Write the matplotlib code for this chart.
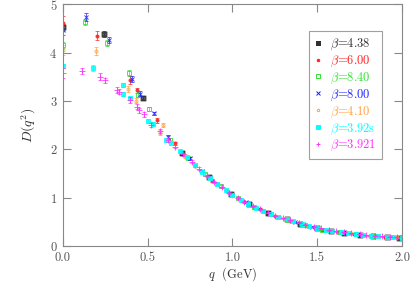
import matplotlib
matplotlib.use('Agg')
import matplotlib.pyplot as plt
from matplotlib.lines import Line2D

plt.rcParams['font.family'] = 'cmr10'
plt.rcParams['mathtext.fontset'] = 'cm'
plt.rcParams['axes.formatter.use_mathtext'] = True

# beta = 4.38
q_438 = [0.0, 0.24, 0.47, 0.70, 0.86, 0.99, 1.10, 1.21, 1.32, 1.40, 1.50, 1.58, 1.66, 1.75, 1.83, 1.91, 1.98]
D_438 = [4.53, 4.39, 3.06, 1.92, 1.42, 1.08, 0.86, 0.69, 0.55, 0.46, 0.37, 0.31, 0.27, 0.23, 0.21, 0.19, 0.17]
e_438 = [0.06, 0.06, 0.05, 0.04, 0.03, 0.02, 0.02, 0.02, 0.01, 0.01, 0.01, 0.01, 0.01, 0.01, 0.01, 0.01, 0.01]

# beta = 6.00
q_600 = [0.0, 0.20, 0.395, 0.44, 0.556, 0.66, 0.78, 0.88, 0.97, 1.06, 1.16, 1.25, 1.34, 1.44, 1.53, 1.62, 1.72, 1.81, 1.90, 1.99]
D_600 = [4.6, 4.35, 3.43, 3.22, 2.6, 2.12, 1.66, 1.35, 1.13, 0.93, 0.76, 0.63, 0.52, 0.42, 0.34, 0.29, 0.24, 0.21, 0.19, 0.17]
e_600 = [0.15, 0.1, 0.08, 0.05, 0.05, 0.04, 0.03, 0.03, 0.02, 0.02, 0.02, 0.01, 0.01, 0.01, 0.01, 0.01, 0.01, 0.01, 0.01, 0.01]

# beta = 8.40
q_840 = [0.0, 0.13, 0.258, 0.39, 0.445, 0.51, 0.63, 0.74, 0.84, 0.93, 1.03, 1.13, 1.23, 1.33, 1.43, 1.53, 1.63, 1.73, 1.83, 1.93, 2.0]
D_840 = [4.15, 4.63, 4.19, 3.57, 3.13, 2.84, 2.2, 1.82, 1.48, 1.24, 1.0, 0.8, 0.66, 0.54, 0.43, 0.34, 0.28, 0.24, 0.21, 0.19, 0.18]
e_840 = [0.06, 0.07, 0.06, 0.06, 0.05, 0.04, 0.03, 0.03, 0.02, 0.02, 0.02, 0.01, 0.01, 0.01, 0.01, 0.01, 0.01, 0.01, 0.01, 0.01, 0.01]

# beta = 8.00
q_800 = [0.0, 0.136, 0.27, 0.405, 0.454, 0.54, 0.62, 0.75, 0.82, 0.91, 1.00, 1.08, 1.18, 1.27, 1.37, 1.47, 1.56, 1.66, 1.76, 1.86, 1.96]
D_800 = [4.46, 4.74, 4.26, 3.46, 3.15, 2.74, 2.26, 1.81, 1.55, 1.28, 1.05, 0.9, 0.73, 0.61, 0.49, 0.4, 0.33, 0.27, 0.23, 0.2, 0.18]
e_800 = [0.1, 0.08, 0.06, 0.06, 0.05, 0.04, 0.04, 0.03, 0.02, 0.02, 0.02, 0.02, 0.01, 0.01, 0.01, 0.01, 0.01, 0.01, 0.01, 0.01, 0.01]

# beta = 4.10
q_410 = [0.0, 0.193, 0.385, 0.43, 0.57, 0.59, 0.72, 0.86, 1.0, 1.14, 1.28, 1.42, 1.56, 1.70, 1.84, 1.97]
D_410 = [4.05, 4.03, 3.24, 3.0, 2.34, 2.5, 1.86, 1.40, 1.03, 0.78, 0.59, 0.44, 0.33, 0.26, 0.21, 0.18]
e_410 = [0.1, 0.08, 0.06, 0.05, 0.05, 0.05, 0.04, 0.03, 0.02, 0.02, 0.01, 0.01, 0.01, 0.01, 0.01, 0.01]

# beta = 3.92s
q_392s = [0.0, 0.18, 0.356, 0.356, 0.395, 0.50, 0.53, 0.61, 0.64, 0.69, 0.73, 0.78, 0.82, 0.87, 0.91, 0.96, 1.0, 1.05,
          1.09, 1.14, 1.18, 1.23, 1.27, 1.32, 1.36, 1.41, 1.45, 1.50, 1.55, 1.59, 1.64, 1.68, 1.73, 1.77, 1.82, 1.86,
          1.91, 1.95, 2.0]
D_392s = [3.73, 3.68, 3.33, 3.15, 3.05, 2.59, 2.53, 2.19, 2.12, 1.96, 1.84, 1.67, 1.54, 1.40, 1.28, 1.16, 1.05, 0.95,
          0.87, 0.79, 0.73, 0.66, 0.61, 0.55, 0.51, 0.46, 0.42, 0.38, 0.34, 0.31, 0.28, 0.26, 0.24, 0.23, 0.21, 0.20,
          0.19, 0.18, 0.17]
e_392s = [0.04, 0.06, 0.05, 0.04, 0.04, 0.04, 0.03, 0.03, 0.03, 0.03, 0.02, 0.02, 0.02, 0.02, 0.02, 0.02, 0.02, 0.01,
          0.01, 0.01, 0.01, 0.01, 0.01, 0.01, 0.01, 0.01, 0.01, 0.01, 0.01, 0.01, 0.01, 0.01, 0.01, 0.01, 0.01, 0.01,
          0.01, 0.01, 0.01]

# beta = 3.921
q_3921 = [0.0, 0.11, 0.22, 0.25, 0.317, 0.33, 0.395, 0.44, 0.45, 0.48, 0.52, 0.57, 0.62, 0.66, 0.71, 0.76, 0.80, 0.85,
          0.89, 0.94, 0.98, 1.03, 1.07, 1.12, 1.16, 1.21, 1.25, 1.30, 1.34, 1.39, 1.43, 1.48, 1.52, 1.57, 1.61, 1.66,
          1.70, 1.75, 1.79, 1.84, 1.88, 1.93, 1.97]
D_3921 = [3.57, 3.62, 3.50, 3.43, 3.22, 3.19, 3.02, 2.88, 2.81, 2.72, 2.50, 2.38, 2.20, 2.05, 1.90, 1.74, 1.60, 1.45,
          1.33, 1.21, 1.10, 0.99, 0.91, 0.82, 0.76, 0.69, 0.63, 0.57, 0.53, 0.48, 0.44, 0.40, 0.37, 0.33, 0.31, 0.28,
          0.26, 0.24, 0.22, 0.21, 0.20, 0.19, 0.18]
e_3921 = [0.1, 0.07, 0.07, 0.05, 0.06, 0.05, 0.06, 0.05, 0.05, 0.05, 0.04, 0.04, 0.04, 0.03, 0.03, 0.03, 0.03, 0.02,
          0.02, 0.02, 0.02, 0.02, 0.02, 0.01, 0.01, 0.01, 0.01, 0.01, 0.01, 0.01, 0.01, 0.01, 0.01, 0.01, 0.01, 0.01,
          0.01, 0.01, 0.01, 0.01, 0.01, 0.01, 0.01]

labels = [r'$\beta$=4.38', r'$\beta$=6.00', r'$\beta$=8.40', r'$\beta$=8.00',
          r'$\beta$=4.10', r'$\beta$=3.92s', r'$\beta$=3.921']
colors = ['#303030', '#ff2020', '#30e030', '#2020ff', '#ffa040', '#00ffff', '#ff30ff']
series = [(q_438, D_438, e_438), (q_600, D_600, e_600), (q_840, D_840, e_840), (q_800, D_800, e_800),
          (q_410, D_410, e_410), (q_392s, D_392s, e_392s), (q_3921, D_3921, e_3921)]
# marker, size, filled
styles = [(r'$\boxtimes$', 3.5, True), ('o', 2.2, True), ('s', 3.2, False), ('x', 3.2, True),
          ('o', 2.2, False), ('s', 3.2, True), ('+', 3.8, True)]

fig = plt.figure(figsize=(4.11, 2.95), dpi=100)
ax = fig.add_axes([0.153, 0.166, 0.825, 0.820])

handles = []
for (q, D, e), c, (m, ms, filled), lab in zip(series, colors, styles, labels):
    mfc = c if filled else 'none'
    ax.errorbar(q, D, yerr=e, fmt='none', ecolor=c, elinewidth=0.7, capsize=1.5, capthick=0.7, alpha=0.7)
    ax.plot(q, D, ls='none', marker=m, color=c, ms=ms, mfc=mfc, mec=c, mew=0.7, alpha=0.85)
    handles.append(Line2D([], [], ls='none', marker=m, color=c, ms=ms * 0.8, mfc=mfc, mec=c, mew=0.7, label=lab))

ax.set_xlim(0, 2.0)
ax.set_ylim(0, 5)
ax.set_xticks([0.0, 0.5, 1.0, 1.5, 2.0])
ax.set_xticklabels(['0.0', '0.5', '1.0', '1.5', '2.0'])
ax.set_yticks([0, 1, 2, 3, 4, 5])
ax.tick_params(direction='in', length=6, width=0.8, color='#888888', labelcolor='#555555',
               labelsize=9, top=True, right=True, pad=4)
for sp in ax.spines.values():
    sp.set_color('#888888')
    sp.set_linewidth(0.8)

ax.set_xlabel(r'$q$  (GeV)', fontsize=9, color='#333333', labelpad=1)
ax.set_ylabel(r'$D(q^2)$', fontsize=10, color='#333333', labelpad=8)

leg = ax.legend(handles=handles, loc='upper left', bbox_to_anchor=(0.726, 0.888), borderaxespad=0,
                fontsize=9, frameon=True, fancybox=False, edgecolor='#888888', handlelength=0.6,
                handletextpad=0.6, labelspacing=0.12, borderpad=0.45)
leg.get_frame().set_linewidth(0.8)
for t, c in zip(leg.get_texts(), colors):
    t.set_color(c)

fig.savefig('out.png', dpi=100)
